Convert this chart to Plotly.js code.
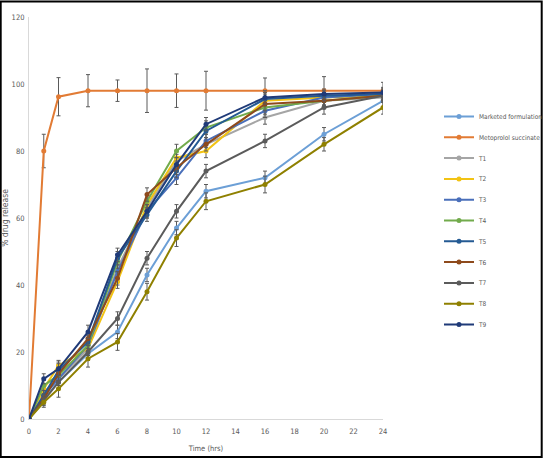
<!DOCTYPE html>
<html>
<head>
<meta charset="utf-8">
<script src="https://cdn.plot.ly/plotly-3.0.1.min.js"></script>
<style>
html,body{margin:0;padding:0;background:#fff;}
#chart{width:546px;height:459px;}
</style>
</head>
<body>
<div id="chart"></div>
<script>
const time = [0, 1, 2, 4, 6, 8, 10, 12, 16, 20, 24];

const seriesNames = ["Marketed formulation", "Metoprolol succinate", "T1", "T2", "T3", "T4", "T5", "T6", "T7", "T8", "T9"];

const marketed   = [0, 6, 11, 19.5, 26, 43, 57, 68, 72, 85, 95];
const metoprolol = [0, 80, 96.2, 98, 98, 98, 98, 98, 98, 98, 98];
const t1 = [0, 8, 12, 21, 45, 63, 77, 82, 90, 95, 96];
const t2 = [0, 9, 16, 21, 41, 64, 78, 80, 95, 96, 96.5];
const t3 = [0, 7, 12, 22, 44, 62, 72, 83, 92, 96, 97];
const t4 = [0, 10, 13, 22, 47, 65, 80, 87, 93, 95, 96.5];
const t5 = [0, 7, 14.5, 23, 48, 61, 74, 86, 95.5, 96.5, 97];
const t6 = [0, 6, 13.5, 24, 42, 67, 75, 82, 94, 95, 96.5];
const t7 = [0, 5.5, 11, 20, 30, 48, 62, 74, 83, 93, 96.5];
const t8 = [0, 5, 9, 18, 23, 38, 54, 65, 70, 82, 93];
const t9 = [0, 12, 15, 26, 49, 62, 76, 88, 96, 97, 97.5];

const errMarketed   = [0, 1.5, 2, 2, 2, 2, 2, 2, 2, 2, 2];
const errMetoprolol = [0, 5, 5.7, 4.8, 3.2, 6.5, 5, 5.8, 3.8, 4.2, 2.5];
const errT1 = [0, 1.5, 2, 2, 2, 2, 2, 2, 2, 2, 1.5];
const errT2 = [0, 1.5, 1.5, 2, 2, 2, 2, 2, 2, 1.5, 1.5];
const errT3 = [0, 1.5, 2, 2, 2, 2, 2, 2, 2, 1.5, 1.5];
const errT4 = [0, 1.5, 2, 2, 2, 2, 2, 2, 2, 1.5, 1.5];
const errT5 = [0, 1.5, 2, 2, 2, 2, 2, 2, 2, 1.5, 1.5];
const errT6 = [0, 1.5, 2, 2, 2, 2, 2, 2, 2, 1.5, 1.5];
const errT7 = [0, 1.5, 2, 2, 2, 2, 2, 2, 2, 2, 1.5];
const errT8 = [0, 1.5, 2.5, 2.5, 2.5, 2.5, 2.5, 2.5, 2.5, 2, 2];
const errT9 = [0, 1.5, 2, 2, 2, 2, 2, 2, 2, 1.5, 1.5];

const xTickVals = [0, 2, 4, 6, 8, 10, 12, 14, 16, 18, 20, 22, 24];
const yTickVals = [0, 20, 40, 60, 80, 100, 120];

const seriesValues = [marketed, metoprolol, t1, t2, t3, t4, t5, t6, t7, t8, t9];
const seriesErrors = [errMarketed, errMetoprolol, errT1, errT2, errT3, errT4, errT5, errT6, errT7, errT8, errT9];
const colors = ["#6c9fd6", "#e27b34", "#a5a5a5", "#f2c314", "#4a6fba", "#72ab4c", "#245a93", "#8e4a1c", "#5b5b5b", "#8f8000", "#1f3a78"];

const traces = seriesNames.map((name, i) => ({
  type: "scatter",
  mode: "lines+markers",
  name: name,
  legendgroup: "g" + i,
  x: time,
  y: seriesValues[i],
  line: {color: colors[i], width: 2},
  marker: {color: colors[i], size: 5, symbol: "circle"},
  error_y: {type: "data", array: seriesErrors[i], visible: true, color: "#5a5a5a", thickness: 1, width: 2}
}));

const fontFam = "Liberation Sans Narrow, Arial Narrow, DejaVu Sans Condensed, sans-serif";

const W = 354, H = 402, L = 29.3, T = 17;

const layout = {
  width: 546,
  height: 459,
  margin: {l: L, r: 546 - L - W, t: T, b: 459 - T - H, pad: 0, autoexpand: false},
  paper_bgcolor: "#ffffff",
  plot_bgcolor: "#ffffff",
  showlegend: true,
  font: {family: fontFam, size: 7.5, color: "#595959"},
  xaxis: {
    range: [0, 24],
    tickvals: xTickVals,
    ticktext: xTickVals.map(String),
    showgrid: false,
    zeroline: false,
    showline: true,
    linecolor: "#d9d9d9",
    linewidth: 1,
    ticks: "",
    ticklen: 0,
    ticklabelstandoff: 5,
    tickfont: {family: fontFam, size: 7.5, color: "#595959"},
    title: {text: "Time (hrs)", font: {family: fontFam, size: 7.5, color: "#595959"}, standoff: 10},
    automargin: false
  },
  yaxis: {
    range: [0, 120],
    tickvals: yTickVals,
    ticktext: yTickVals.map(String),
    showgrid: false,
    zeroline: false,
    showline: true,
    linecolor: "#d9d9d9",
    linewidth: 1,
    ticks: "",
    ticklen: 0,
    ticklabelstandoff: 2,
    tickfont: {family: fontFam, size: 7.5, color: "#595959"},
    title: {text: "% drug release", font: {family: fontFam, size: 8.5, color: "#595959"}, standoff: 1},
    automargin: false
  },
  legend: {
    xref: "container",
    yref: "container",
    x: 439 / 546,
    xanchor: "left",
    y: 1 - 102 / 459,
    yanchor: "top",
    traceorder: "grouped",
    tracegroupgap: 1.8,
    itemwidth: 30,
    bgcolor: "rgba(0,0,0,0)",
    borderwidth: 0,
    font: {family: fontFam, size: 6.5, color: "#595959"}
  },
  shapes: [{
    type: "rect",
    xref: "paper", yref: "paper",
    x0: (1 - L) / W, x1: (542 - L) / W,
    y0: (419 - 457) / H, y1: (419 - 1.5) / H,
    line: {color: "#000000", width: 2},
    fillcolor: "rgba(0,0,0,0)",
    layer: "below"
  }]
};

Plotly.newPlot("chart", traces, layout, {displayModeBar: false, staticPlot: true});
</script>
</body>
</html>
